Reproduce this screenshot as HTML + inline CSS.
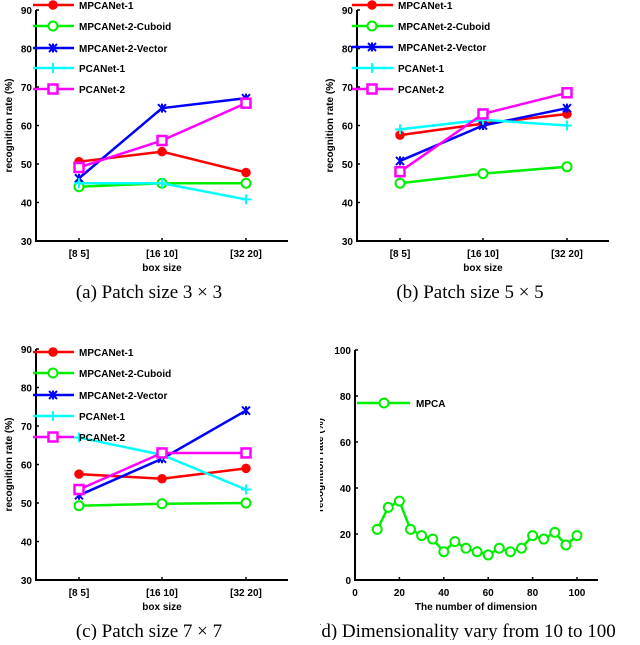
<!DOCTYPE html>
<html><head><meta charset="utf-8"><style>
html,body{margin:0;padding:0;background:#fff;}
svg text{font-family:"Liberation Sans",Arial,sans-serif;}
.t{font-weight:bold;font-size:10px;}
.cap{font-family:"Liberation Serif",serif !important;font-size:19px;}
</style></head><body>
<svg id="c" width="640" height="640" viewBox="0 0 640 640" xmlns="http://www.w3.org/2000/svg">
<defs><clipPath id="clipd"><rect x="320" y="330" width="320" height="310"/></clipPath></defs>
</svg>
<script>
const categories = ["[8 5]","[16 10]","[32 20]"];
const seriesNames = ["MPCANet-1","MPCANet-2-Cuboid","MPCANet-2-Vector","PCANet-1","PCANet-2"];
const seriesColors = ["#ff0000","#00ee00","#0000ff","#00ffff","#ff00ff"];
const seriesMarkers = ["dot","circle","star","plus","square"];
const yTicks = [30,40,50,60,70,80,90];
const a_mp1 = [50.6,53.2,47.8];
const a_cub = [44.1,45,45];
const a_vec = [46.3,64.5,67.1];
const a_pc1 = [45,45,40.8];
const a_pc2 = [49.1,56.1,65.8];
const b_mp1 = [57.5,60.5,63];
const b_cub = [45,47.5,49.3];
const b_vec = [50.8,60,64.5];
const b_pc1 = [59,61.5,60];
const b_pc2 = [48,63,68.5];
const c_mp1 = [57.5,56.3,59];
const c_cub = [49.3,49.8,50];
const c_vec = [52,61.5,74];
const c_pc1 = [67,62.5,53.5];
const c_pc2 = [53.5,63,63];
const dDims = [10,15,20,25,30,35,40,45,50,55,60,65,70,75,80,85,90,95,100];
const dRates = [22,31.6,34.3,22,19.3,17.8,12.3,16.7,13.8,12.3,10.9,13.8,12.3,13.8,19.3,17.8,20.7,15.2,19.3];
const dXTicks = [0,20,40,60,80,100];
const dYTicks = [0,20,40,60,80,100];

const svg = document.getElementById('c');
const NS = "http://www.w3.org/2000/svg";
function mk(tag, attrs, parent, text){
  const e = document.createElementNS(NS, tag);
  for (const k in attrs) e.setAttribute(k, attrs[k]);
  if (text !== undefined) e.textContent = text;
  (parent||svg).appendChild(e);
  return e;
}
function marker(g, type, x, y, col){
  let m;
  if (type==="dot") m = mk('circle',{cx:x,cy:y,r:4,fill:col,stroke:col,'stroke-width':1.5},g);
  else if (type==="circle") m = mk('circle',{cx:x,cy:y,r:4.5,fill:'#fff',stroke:col,'stroke-width':2},g);
  else if (type==="square") m = mk('rect',{x:x-4.5,y:y-4.5,width:9,height:9,fill:'#fff',stroke:col,'stroke-width':2.5},g);
  else if (type==="plus") m = mk('path',{d:`M${x-5} ${y}H${x+5}M${x} ${y-5}V${y+5}`,stroke:col,'stroke-width':2,fill:'none'},g);
  else m = mk('path',{d:`M${x-4} ${y-4}L${x+4} ${y+4}M${x-4} ${y+4}L${x+4} ${y-4}M${x} ${y-4.5}V${y+4.5}`,stroke:col,'stroke-width':2,fill:'none'},g);
  
  
}
function panel(id, ox, oy, data, legX, legYs, caption){
  const g = mk('g',{});
  
  
  const L=36+ox, T=10+oy, B=241+oy, R=288+ox;
  const catX = [79+ox,162+ox,246+ox];
  const ys = v => B - (v-30)/60*(B-T);
  const ax = mk('path',{d:`M${L} ${T}V${B}H${R}`,stroke:'#000','stroke-width':2,fill:'none'},g);
  
  
  yTicks.forEach(t=>{
    mk('line',{x1:L,x2:L+3,y1:ys(t),y2:ys(t),stroke:'#000','stroke-width':1.5},g);
    const tl = mk('text',{x:L-4,y:ys(t)+4,'text-anchor':'end',class:'t'},g,String(t));
    
    
  });
  categories.forEach((c,i)=>{
    mk('line',{x1:catX[i],x2:catX[i],y1:B,y2:B-3,stroke:'#000','stroke-width':1.5},g);
    const tl = mk('text',{x:catX[i],y:B+16,'text-anchor':'middle',class:'t'},g,c);
    
    
  });
  const xt = mk('text',{x:162+ox,y:B+30,'text-anchor':'middle',class:'t'},g,'box size');
  
  
  const yt = mk('text',{x:0,y:0,'text-anchor':'middle',class:'t',transform:`translate(${12+ox},${(T+B)/2}) rotate(-90)`},g,'recognition rate (%)');
  
  
  data.forEach((vals,s)=>{
    const col = seriesColors[s];
    const ln = mk('polyline',{points:vals.map((v,i)=>catX[i]+','+ys(v)).join(' '),fill:'none',stroke:col,'stroke-width':2.5},g);
    
    
    vals.forEach((v,i)=>marker(g,seriesMarkers[s],catX[i],ys(v),col));
  });
  seriesNames.forEach((n,s)=>{
    const y = legYs[s];
    const lg = mk('g',{},g);
    
    
    mk('line',{x1:legX,x2:legX+41,y1:y,y2:y,stroke:seriesColors[s],'stroke-width':2.5},lg);
    marker(lg,seriesMarkers[s],legX+20,y,seriesColors[s]);
    mk('text',{x:legX+46,y:y+4,class:'t'},lg,n);
  });
  const cp = mk('text',{x:149+ox,y:298+oy,'text-anchor':'middle',class:'cap'},g,caption);
  
  
}
panel('a',0,0,[a_mp1,a_cub,a_vec,a_pc1,a_pc2],33,[5,26,48,68,89],'(a) Patch size 3 × 3');
panel('b',321,0,[b_mp1,b_cub,b_vec,b_pc1,b_pc2],352,[5,26,47,68,89],'(b) Patch size 5 × 5');
panel('c',0,339,[c_mp1,c_cub,c_vec,c_pc1,c_pc2],33,[352,373,395,416,437],'(c) Patch size 7 × 7');

// panel d
(function(){
  const g = mk('g',{'clip-path':'url(#clipd)'});
  
  
  const L=355,T=350,B=580,R=598;
  const xs = v => 355 + v/100*(577-355);
  const ys = v => B - v/100*(B-T);
  const ax = mk('path',{d:`M${L} ${T}V${B}H${R}`,stroke:'#000','stroke-width':2,fill:'none'},g);
  
  
  dYTicks.forEach(t=>{
    mk('line',{x1:L,x2:L+3,y1:ys(t),y2:ys(t),stroke:'#000','stroke-width':1.5},g);
    const tl = mk('text',{x:L-4,y:ys(t)+4,'text-anchor':'end',class:'t'},g,String(t));
    
    
  });
  dXTicks.forEach(t=>{
    mk('line',{x1:xs(t),x2:xs(t),y1:B,y2:B-3,stroke:'#000','stroke-width':1.5},g);
    const tl = mk('text',{x:xs(t),y:B+16,'text-anchor':'middle',class:'t'},g,String(t));
    
    
  });
  const xt = mk('text',{x:476,y:B+30,'text-anchor':'middle',class:'t'},g,'The number of dimension');
  
  
  const yt = mk('text',{x:0,y:0,'text-anchor':'middle',class:'t',transform:`translate(323,${(T+B)/2}) rotate(-90)`},g,'recognition rate (%)');
  
  
  const col = '#00ee00';
  const ln = mk('polyline',{points:dDims.map((d,i)=>xs(d)+','+ys(dRates[i])).join(' '),fill:'none',stroke:col,'stroke-width':2.5},g);
  
  
  dDims.forEach((d,i)=>marker(g,'circle',xs(d),ys(dRates[i]),col));
  const lg = mk('g',{},g);
  
  
  mk('line',{x1:357,x2:410,y1:403,y2:403,stroke:col,'stroke-width':2.5},lg);
  marker(lg,'circle',384,403,col);
  mk('text',{x:416,y:407,class:'t'},lg,'MPCA');
  const cp = mk('text',{x:315,y:637,'text-anchor':'start',class:'cap'},g,'(d) Dimensionality vary from 10 to 100');
  
  
})();
</script>
</body></html>
